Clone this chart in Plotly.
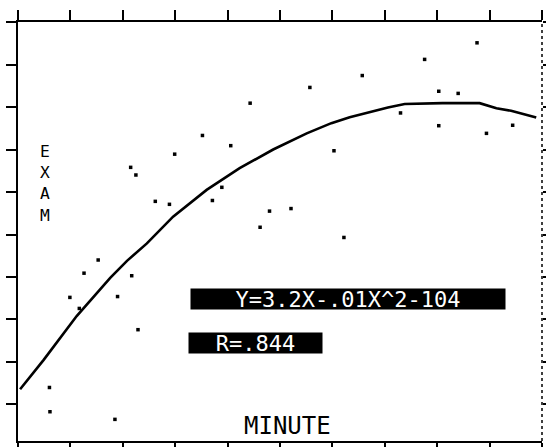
import plotly.graph_objects as go

# Observed points (MINUTE, EXAM) in axis units (0-100 grid)
minute = [87.6, 77.6, 65.7, 55.7, 44.3, 80.3, 84.0, 73.0, 80.3, 94.4, 89.4, 35.2,
          40.6, 60.3, 29.9, 21.5, 22.5, 38.9, 26.2, 28.9, 37.1, 48.0, 52.1, 46.2,
          62.2, 15.3, 12.6, 21.7, 9.9, 19.0, 11.7, 22.9, 6.0, 6.1, 18.5]
exam = [95.1, 91.2, 87.4, 84.6, 80.9, 83.7, 83.2, 78.6, 75.6, 75.7, 73.8, 73.3,
        70.9, 69.7, 68.9, 65.8, 64.0, 61.1, 57.8, 57.1, 58.0, 55.5, 56.1, 51.7,
        49.3, 44.0, 40.9, 40.3, 35.2, 35.4, 32.6, 27.6, 14.0, 8.3, 6.5]

# Fitted curve
fit_x = [0.4, 4.9, 11.2, 17.6, 20.8, 24.6, 29.6, 36.0, 42.3, 48.7, 55.1, 59.8,
         63.3, 67.8, 70.6, 73.8, 81.0, 88.1, 91.3, 94.1, 98.9]
fit_y = [13.6, 20.5, 30.8, 39.8, 43.8, 47.9, 54.2, 60.5, 65.6, 70.0, 73.8, 76.2,
         77.6, 79.1, 79.9, 80.7, 80.9, 80.9, 79.7, 79.1, 77.5]

y_label = "EXAM"
x_label = "MINUTE"
eq_text = "Y=3.2X-.01X^2-104"
r_text = "R=.844"

MONO = "DejaVu Sans Mono"

fig = go.Figure()
fig.add_trace(go.Scatter(x=fit_x, y=fit_y, mode="lines",
                         line=dict(color="black", width=2.6), hoverinfo="skip"))
fig.add_trace(go.Scatter(x=minute, y=exam, mode="markers",
                         marker=dict(color="black", size=3.5, symbol="square"),
                         hoverinfo="skip"))
fig.add_trace(go.Scatter(x=[None], y=[None], yaxis="y2", hoverinfo="skip"))

annotations = [
    dict(x=5.2, y=62.0, xref="x", yref="y", text="<br>".join(y_label), showarrow=False,
         font=dict(family=MONO, size=16.3, color="black")),
    dict(x=51.5, y=4.9, xref="x", yref="y", text=x_label, showarrow=False,
         font=dict(family=MONO, size=24, color="black")),
    dict(x=62.9, y=34.8, xref="x", yref="y", text=eq_text, showarrow=False,
         bgcolor="black", width=314, height=20, borderpad=0,
         font=dict(family=MONO, size=22, color="white")),
    dict(x=45.4, y=24.5, xref="x", yref="y", text=r_text, showarrow=False,
         bgcolor="black", width=133, height=20, borderpad=0,
         font=dict(family=MONO, size=22, color="white")),
]

fig.update_layout(
    width=546, height=447,
    margin=dict(l=18, r=4, t=22, b=6, pad=0),
    paper_bgcolor="white", plot_bgcolor="white",
    showlegend=False,
    xaxis=dict(range=[0, 100], dtick=10, tick0=0, showticklabels=False,
               showline=True, linecolor="black", linewidth=2, mirror="ticks",
               ticks="outside", ticklen=10, tickwidth=2, tickcolor="black",
               showgrid=False, zeroline=False, automargin=False),
    yaxis=dict(range=[1.41, 100], dtick=10, tick0=0, showticklabels=False,
               showline=True, linecolor="black", linewidth=2,
               ticks="outside", ticklen=10, tickwidth=2, tickcolor="black",
               showgrid=False, zeroline=False, automargin=False),
    yaxis2=dict(range=[1.41, 100], dtick=10, tick0=0, overlaying="y", side="right",
                showticklabels=False, showline=False, ticks="outside", ticklen=4,
                tickwidth=1.5, tickcolor="black", showgrid=False, zeroline=False,
                automargin=False),
    shapes=[dict(type="line", xref="paper", yref="paper", x0=1, x1=1, y0=0, y1=1,
                 line=dict(color="black", width=1.5, dash="dot"))],
    annotations=annotations,
)

fig.write_html("out.html", config={"displayModeBar": False},
               post_script="document.body.style.margin='0';document.body.style.overflow='hidden';")
